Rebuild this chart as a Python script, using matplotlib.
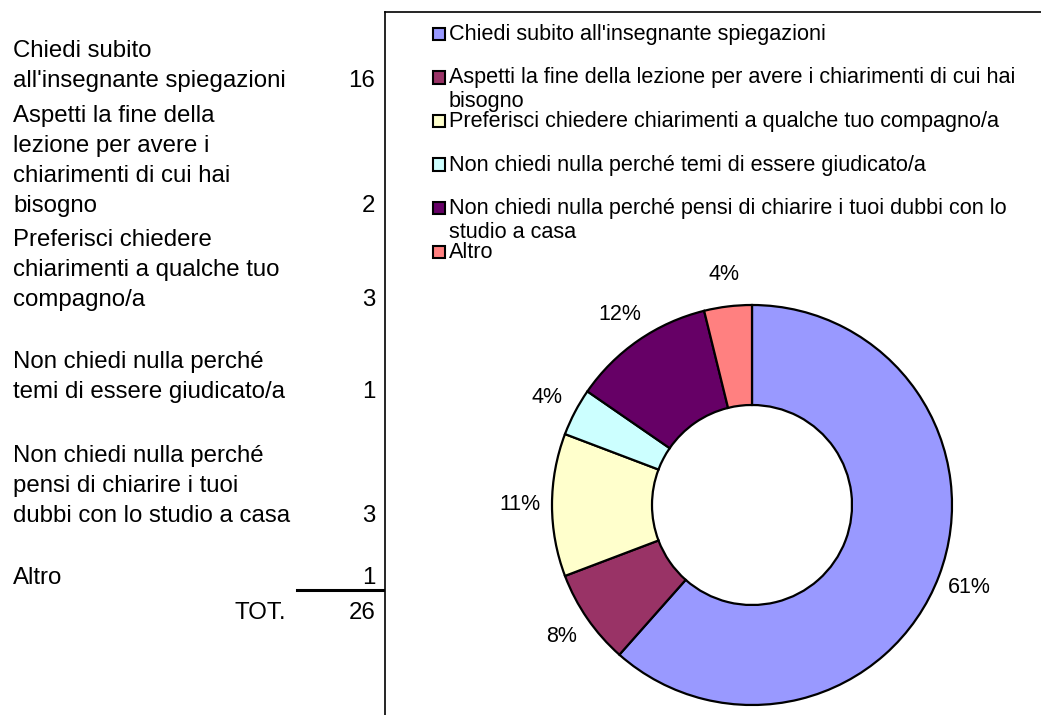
import matplotlib.pyplot as plt
from matplotlib.lines import Line2D
from matplotlib.patches import Rectangle

plt.rcParams['font.family'] = ['Liberation Sans', 'DejaVu Sans']

# data
table_labels = ["Chiedi subito\nall'insegnante spiegazioni",
                "Aspetti la fine della\nlezione per avere i\nchiarimenti di cui hai\nbisogno",
                "Preferisci chiedere\nchiarimenti a qualche tuo\ncompagno/a",
                "Non chiedi nulla perché\ntemi di essere giudicato/a",
                "Non chiedi nulla perché\npensi di chiarire i tuoi\ndubbi con lo studio a casa",
                "Altro"]
legend_labels = ["Chiedi subito all'insegnante spiegazioni",
                 "Aspetti la fine della lezione per avere i chiarimenti di cui hai\nbisogno",
                 "Preferisci chiedere chiarimenti a qualche tuo compagno/a",
                 "Non chiedi nulla perché temi di essere giudicato/a",
                 "Non chiedi nulla perché pensi di chiarire i tuoi dubbi con lo\nstudio a casa",
                 "Altro"]
counts = [16, 2, 3, 1, 3, 1]
pct_labels = ['61%', '8%', '11%', '4%', '12%', '4%']
colors = ['#9999FF', '#993366', '#FFFFCC', '#CCFFFF', '#660066', '#FF8080']

W, H = 1041, 715
fig = plt.figure(figsize=(W / 100, H / 100), dpi=100)

def fx(x):
    return x / W

def fy(y):
    return 1 - y / H

# left table
base = [87, 212, 306, 398, 522, 584]
step = 30
fs = 17.3
for lab, n, b in zip(table_labels, counts, base):
    lines = lab.split('\n')
    for k, ln in enumerate(lines):
        yy = b - (len(lines) - 1 - k) * step
        fig.text(fx(13), fy(yy), ln, fontsize=fs, va='baseline', ha='left')
    fig.text(fx(375), fy(b), str(n), fontsize=fs, va='baseline', ha='right')
fig.add_artist(Line2D([fx(297), fx(383)], [fy(590), fy(590)], color='black', lw=2.2))
fig.text(fx(286), fy(619), 'TOT.', fontsize=fs, va='baseline', ha='right')
fig.text(fx(375), fy(619), str(sum(counts)), fontsize=fs, va='baseline', ha='right')

# chart frame
fig.add_artist(Line2D([fx(385), fx(385)], [fy(12), 0], color='black', lw=1.2))
fig.add_artist(Line2D([fx(385), 1], [fy(12), fy(12)], color='black', lw=1.2))

# legend
y0 = 40
for i, (lab, c) in enumerate(zip(legend_labels, colors)):
    yb = y0 + i * 43.5
    fig.add_artist(Rectangle((fx(433), fy(yb)), 12 / W, 12 / H, facecolor=c,
                             edgecolor='black', lw=1.5))
    for k, ln in enumerate(lab.split('\n')):
        fig.text(fx(449), fy(yb + k * 24), ln, fontsize=15.6, va='baseline', ha='left')

# donut
ax = fig.add_axes([fx(552), fy(705), 400 / W, 400 / H])
wedges, texts = ax.pie(counts, colors=colors, labels=pct_labels, startangle=90,
                       counterclock=False, labeldistance=1.16,
                       wedgeprops=dict(width=0.5, edgecolor='black', linewidth=1.6),
                       textprops=dict(fontsize=15.5))
for t in texts:
    t.set_ha('center')
    t.set_va('center')
ax.set_xlim(-1, 1)
ax.set_ylim(-1, 1)
ax.set_aspect('equal')
ax.axis('off')

plt.savefig('out.png', dpi=100)
